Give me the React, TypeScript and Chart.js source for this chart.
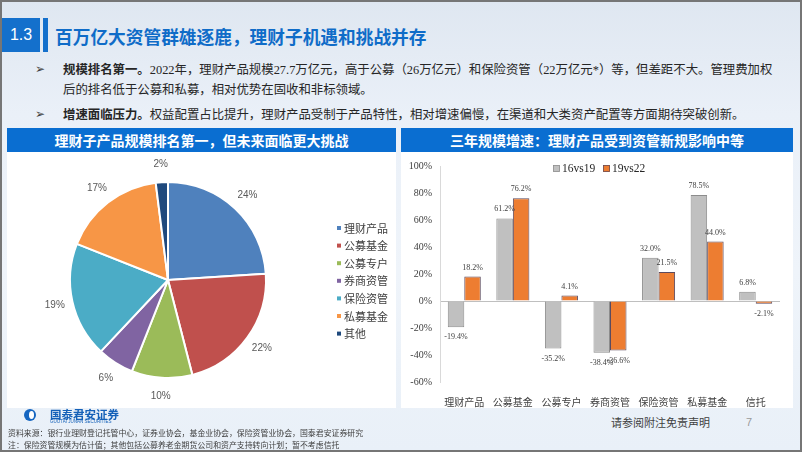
import React, { useEffect, useRef } from 'react';
import { Chart, registerables } from 'chart.js';

Chart.register(...registerables);

// ---------- data ----------
const pieLabels = ['理财产品', '公募基金', '公募专户', '券商资管', '保险资管', '私募基金', '其他'];
const pieValues = [24, 22, 10, 6, 19, 17, 2];
const pieColors = ['#4F81BD', '#C0504D', '#9BBB59', '#8064A2', '#4BACC6', '#F79646', '#1F497D'];

const barCategories = ['理财产品', '公募基金', '公募专户', '券商资管', '保险资管', '私募基金', '信托'];
const seriesNames = ['16vs19', '19vs22'];
const series16vs19 = [-19.4, 61.2, -35.2, -38.4, 32.0, 78.5, 6.8];
const series19vs22 = [18.2, 76.2, 4.1, -36.6, 21.5, 44.0, -2.1];
const yMin = -60;
const yMax = 100;
const yStep = 20;

const CJK = '"Noto Sans CJK SC"';
const SERIF = '"Liberation Serif", "Noto Sans CJK SC"';

const piePlugin = {
  id: 'pieExtras',
  afterDraw(chart: any) {
    const ctx = chart.ctx;
    const meta = chart.getDatasetMeta(0);
    ctx.save();
    ctx.font = '10px "Liberation Sans"';
    ctx.fillStyle = '#595959';
    ctx.textAlign = 'center';
    ctx.textBaseline = 'middle';
    meta.data.forEach((arc: any, i: number) => {
      const p = arc.getProps(['x', 'y', 'startAngle', 'endAngle', 'outerRadius'], true);
      const mid = (p.startAngle + p.endAngle) / 2;
      const r = p.outerRadius + 18;
      ctx.fillText(pieValues[i] + '%', p.x + Math.cos(mid) * r, p.y + Math.sin(mid) * r);
    });
    // legend
    ctx.font = '11px ' + CJK;
    ctx.textAlign = 'left';
    pieLabels.forEach((lab, i) => {
      const y = 76 + i * 17.6;
      ctx.fillStyle = pieColors[i];
      ctx.fillRect(330, y - 2, 4, 4);
      ctx.fillStyle = '#404040';
      ctx.fillText(lab, 337, y + 0.5);
    });
    ctx.restore();
  },
};

const barPlugin = {
  id: 'barExtras',
  afterDraw(chart: any) {
    const ctx = chart.ctx;
    ctx.save();
    ctx.font = '8px "Liberation Serif"';
    ctx.fillStyle = '#404040';
    ctx.textAlign = 'center';
    ctx.textBaseline = 'middle';
    chart.data.datasets.forEach((ds: any, di: number) => {
      const meta = chart.getDatasetMeta(di);
      meta.data.forEach((bar: any, i: number) => {
        const v = ds.data[i];
        const y = v >= 0 ? bar.y - 9 : bar.y + 10;
        ctx.fillText(v.toFixed(1) + '%', bar.x, y);
      });
    });
    // legend
    ctx.font = '11.5px "Liberation Serif"';
    ctx.textAlign = 'left';
    const items = [
      { x: 152, color: '#C0C0C0', border: '#8C8C8C' },
      { x: 202, color: '#ED7D31', border: '#5B4A5E' },
    ];
    items.forEach((it, i) => {
      ctx.fillStyle = it.color;
      ctx.fillRect(it.x, 13, 7, 7);
      ctx.strokeStyle = it.border;
      ctx.lineWidth = 0.7;
      ctx.strokeRect(it.x + 0.5, 13.5, 6, 6);
      ctx.fillStyle = '#262626';
      ctx.fillText(seriesNames[i], it.x + 9, 17);
    });
    ctx.restore();
  },
};

export default function App() {
  const pieRef = useRef<HTMLCanvasElement>(null);
  const barRef = useRef<HTMLCanvasElement>(null);

  useEffect(() => {
    const pie = new Chart(pieRef.current!, {
      type: 'pie',
      data: {
        labels: pieLabels,
        datasets: [
          {
            data: pieValues,
            backgroundColor: pieColors,
            borderColor: '#FFFFFF',
            borderWidth: 2,
          },
        ],
      },
      options: {
        animation: false,
        responsive: true,
        maintainAspectRatio: false,
        layout: { padding: { left: 62, right: 129, top: 29, bottom: 29 } },
        plugins: { legend: { display: false }, tooltip: { enabled: false } },
      },
      plugins: [piePlugin],
    });

    const bar = new Chart(barRef.current!, {
      type: 'bar',
      data: {
        labels: barCategories,
        datasets: [
          {
            label: seriesNames[0],
            data: series16vs19,
            backgroundColor: '#C0C0C0',
            borderColor: '#8C8C8C',
            borderWidth: 1,
            categoryPercentage: 0.68,
            barPercentage: 1,
          },
          {
            label: seriesNames[1],
            data: series19vs22,
            backgroundColor: '#ED7D31',
            borderColor: '#5B4A5E',
            borderWidth: 1,
            categoryPercentage: 0.68,
            barPercentage: 1,
          },
        ],
      },
      options: {
        animation: false,
        responsive: true,
        maintainAspectRatio: false,
        layout: { padding: { left: 0, right: 13, top: 13, bottom: 0 } },
        plugins: { legend: { display: false }, tooltip: { enabled: false } },
        scales: {
          x: {
            grid: { display: false },
            border: { display: false },
            ticks: {
              font: { family: CJK, size: 10 },
              color: '#404040',
              padding: 6,
              maxRotation: 0,
            },
            afterFit(scale: any) {
              scale.height = 26;
            },
          },
          y: {
            min: yMin,
            max: yMax,
            ticks: {
              stepSize: yStep,
              font: { family: '"Liberation Serif"', size: 10 },
              color: '#404040',
              padding: 8,
              callback: (v: any) => v + '%',
            },
            grid: {
              drawTicks: false,
              color: (c: any) => (c.tick && c.tick.value === 0 ? '#BFBFBF' : 'rgba(0,0,0,0)'),
            },
            border: { display: true, color: '#D9D9D9' },
            afterFit(scale: any) {
              scale.width = 39;
            },
          },
        },
      },
      plugins: [barPlugin],
    });

    return () => {
      pie.destroy();
      bar.destroy();
    };
  }, []);

  const abs = (s: React.CSSProperties): React.CSSProperties => ({ position: 'absolute', ...s });

  return (
    <div
      style={{
        position: 'fixed',
        left: 0,
        top: 0,
        width: 802,
        height: 452,
        boxSizing: 'border-box',
        border: '2px solid #767676',
        background: 'linear-gradient(180deg, #dfe7f1 0%, #eaf0f8 25%, #eff4fa 60%, #e9f0f8 100%)',
        overflow: 'hidden',
        fontFamily: CJK,
      }}
    >
      {/* section number */}
      <div style={abs({ left: 0, top: 16, width: 38, height: 34, background: '#1470CC', color: '#fff', fontFamily: '"Liberation Sans"', fontSize: 16, lineHeight: '34px', textAlign: 'center' })}>1.3</div>
      <div style={abs({ left: 41, top: 16, width: 5, height: 34, background: '#1470CC' })} />
      <div style={abs({ left: 53, top: 21, fontSize: 17.7, fontWeight: 700, color: '#0F6CC8', lineHeight: '26px', whiteSpace: 'nowrap' })}>
        百万亿大资管群雄逐鹿，理财子机遇和挑战并存
      </div>

      {/* bullets */}
      <div style={abs({ left: 33, top: 57, fontSize: 12, lineHeight: '20px', color: '#404040', fontFamily: '"DejaVu Sans"' })}>➢</div>
      <div style={abs({ left: 61, top: 57, fontSize: 12.4, lineHeight: '20px', color: '#262626', fontFamily: SERIF, whiteSpace: 'nowrap' })}>
        <b style={{ fontFamily: CJK }}>规模排名第一。</b>2022年，理财产品规模27.7万亿元，高于公募（26万亿元）和保险资管（22万亿元*）等，但差距不大。管理费加权
      </div>
      <div style={abs({ left: 61, top: 78, fontSize: 12.4, lineHeight: '20px', color: '#262626', fontFamily: SERIF, whiteSpace: 'nowrap' })}>
        后的排名低于公募和私募，相对优势在固收和非标领域。
      </div>
      <div style={abs({ left: 33, top: 102, fontSize: 12, lineHeight: '20px', color: '#404040', fontFamily: '"DejaVu Sans"' })}>➢</div>
      <div style={abs({ left: 61, top: 102, fontSize: 12.4, lineHeight: '20px', color: '#262626', fontFamily: SERIF, whiteSpace: 'nowrap' })}>
        <b style={{ fontFamily: CJK }}>增速面临压力。</b>权益配置占比提升，理财产品受制于产品特性，相对增速偏慢，在渠道和大类资产配置等方面期待突破创新。
      </div>

      {/* left panel */}
      <div style={abs({ left: 5, top: 126, width: 389, height: 280, background: '#fff' })}>
        <div style={{ height: 24, background: '#0A6ED1', color: '#fff', fontWeight: 700, fontSize: 14, lineHeight: '24px', textAlign: 'center', whiteSpace: 'nowrap' }}>
          理财子产品规模排名第一，但未来面临更大挑战
        </div>
        <div style={{ position: 'relative', width: 389, height: 256 }}>
          <canvas ref={pieRef} />
        </div>
      </div>

      {/* right panel */}
      <div style={abs({ left: 399, top: 126, width: 392, height: 280, background: '#fff' })}>
        <div style={{ height: 24, background: '#0A6ED1', color: '#fff', fontWeight: 700, fontSize: 14, lineHeight: '24px', textAlign: 'center', whiteSpace: 'nowrap' }}>
          三年规模增速：理财产品受到资管新规影响中等
        </div>
        <div style={{ position: 'relative', width: 392, height: 256 }}>
          <canvas ref={barRef} />
        </div>
      </div>

      {/* footer */}
      <div style={abs({ left: 22, top: 407, width: 12, height: 12, borderRadius: '50%', background: '#1565C0' })}>
        <div style={{ position: 'absolute', left: 5, top: 2, width: 5, height: 8, borderRadius: '50%', background: '#fff' }} />
      </div>
      <div style={abs({ left: 48, top: 405, fontSize: 11.5, fontWeight: 700, color: '#1460B8', lineHeight: '14px', whiteSpace: 'nowrap' })}>国泰君安证券</div>
      <div style={abs({ left: 48, top: 417, fontSize: 4.5, color: '#1460B8', lineHeight: '5px', whiteSpace: 'nowrap', fontFamily: '"Liberation Sans"' })}>GUOTAI JUNAN SECURITIES</div>
      <div style={abs({ left: 6, top: 425, fontSize: 7.9, color: '#404040', lineHeight: '12px', whiteSpace: 'nowrap' })}>
        资料来源：银行业理财登记托管中心，证券业协会，基金业协会，保险资管业协会，国泰君安证券研究
      </div>
      <div style={abs({ left: 6, top: 437, fontSize: 7.9, color: '#404040', lineHeight: '12px', whiteSpace: 'nowrap' })}>
        注：保险资管规模为估计值；其他包括公募养老金期货公司和资产支持转向计划；暂不考虑信托
      </div>
      <div style={abs({ left: 609, top: 412, fontSize: 11, color: '#404040', lineHeight: '16px', whiteSpace: 'nowrap' })}>请参阅附注免责声明</div>
      <div style={abs({ left: 744, top: 412, fontSize: 11, color: '#9a9a9a', lineHeight: '16px', fontFamily: '"Liberation Sans"' })}>7</div>
    </div>
  );
}
